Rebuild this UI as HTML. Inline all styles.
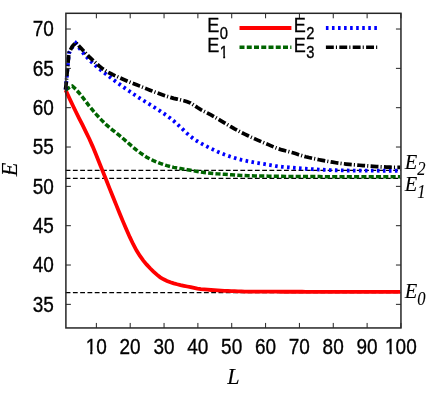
<!DOCTYPE html>
<html><head><meta charset="utf-8"><style>
html,body{margin:0;padding:0;background:#fff;}
svg{display:block;will-change:transform}
text{font-family:"Liberation Sans",sans-serif;font-size:19px;fill:#000;stroke:#000;stroke-width:0.3px}
.it{font-family:"Liberation Serif",serif;font-style:italic;font-size:20.5px;stroke-width:0.1px}
</style></head><body>
<svg width="436" height="397" viewBox="0 0 436 397">
<rect width="436" height="397" fill="#fff"/>
<g fill="none" stroke="#000" stroke-width="1.3" stroke-dasharray="4.8 2.48">
<path d="M65.62,170.4H400.95"/><path d="M65.62,178.35H400.95"/><path d="M65.62,292.7H400.95"/>
</g>
<g fill="none" stroke-linejoin="miter" stroke-width="3.8">
<path stroke="#f00" d="M65.60,90.02 L68.98,97.36 L72.36,104.53 L75.74,111.54 L79.12,118.30 L82.50,124.98 L85.88,131.79 L89.26,138.75 L92.64,146.37 L96.02,154.55 L99.40,162.97 L102.78,171.38 L106.16,179.83 L109.54,188.35 L112.92,196.81 L116.30,205.14 L119.68,213.45 L123.06,221.63 L126.44,229.59 L129.82,237.17 L133.20,244.26 L136.58,250.56 L139.96,255.93 L143.34,260.61 L146.72,264.67 L150.10,268.29 L153.48,271.55 L156.86,274.65 L160.24,277.33 L163.62,279.31 L167.00,280.93 L170.38,282.25 L173.76,283.34 L177.14,284.26 L180.52,285.08 L183.90,285.81 L187.28,286.51 L190.66,287.21 L194.04,287.93 L197.42,288.59 L200.80,289.07 L204.18,289.41 L207.56,289.72 L210.94,289.99 L214.32,290.22 L217.70,290.43 L221.08,290.61 L224.46,290.78 L227.84,290.93 L231.22,291.08 L234.60,291.22 L237.98,291.35 L241.36,291.47 L244.74,291.55 L248.12,291.61 L251.50,291.63 L254.88,291.64 L258.26,291.65 L261.64,291.67 L265.02,291.68 L268.40,291.69 L271.78,291.70 L275.16,291.71 L278.54,291.72 L281.92,291.73 L285.30,291.74 L288.68,291.74 L292.06,291.75 L295.44,291.76 L298.82,291.77 L302.20,291.77 L305.58,291.78 L308.96,291.79 L312.34,291.79 L315.72,291.80 L319.10,291.81 L322.48,291.81 L325.86,291.82 L329.24,291.82 L332.62,291.82 L336.00,291.83 L339.38,291.83 L342.76,291.83 L346.14,291.84 L349.52,291.84 L352.90,291.84 L356.28,291.85 L359.66,291.85 L363.04,291.85 L366.42,291.85 L369.80,291.85 L373.18,291.86 L376.56,291.86 L379.94,291.86 L383.32,291.86 L386.70,291.86 L390.08,291.86 L393.46,291.86 L396.84,291.86 L400.22,291.86"/>
<path stroke="#006400" stroke-width="3.5" stroke-dasharray="5.1 2.2" d="M65.60,90.02 L68.98,87.82 L72.36,86.01 L75.74,89.15 L79.12,92.97 L82.50,97.20 L85.88,101.54 L89.26,106.05 L92.64,110.16 L96.02,114.09 L99.40,117.84 L102.78,121.36 L106.16,124.61 L109.54,127.55 L112.92,130.29 L116.30,132.94 L119.68,135.66 L123.06,138.52 L126.44,141.46 L129.82,144.43 L133.20,147.32 L136.58,150.08 L139.96,152.61 L143.34,154.97 L146.72,157.18 L150.10,159.05 L153.48,160.61 L156.86,162.06 L160.24,163.39 L163.62,164.60 L167.00,165.67 L170.38,166.59 L173.76,167.36 L177.14,168.01 L180.52,168.58 L183.90,169.11 L187.28,169.66 L190.66,170.24 L194.04,170.87 L197.42,171.49 L200.80,172.07 L204.18,172.58 L207.56,172.98 L210.94,173.32 L214.32,173.61 L217.70,173.87 L221.08,174.11 L224.46,174.34 L227.84,174.57 L231.22,174.80 L234.60,175.03 L237.98,175.24 L241.36,175.43 L244.74,175.58 L248.12,175.70 L251.50,175.79 L254.88,175.88 L258.26,175.95 L261.64,176.03 L265.02,176.09 L268.40,176.16 L271.78,176.21 L275.16,176.27 L278.54,176.32 L281.92,176.36 L285.30,176.40 L288.68,176.43 L292.06,176.46 L295.44,176.49 L298.82,176.51 L302.20,176.53 L305.58,176.55 L308.96,176.56 L312.34,176.58 L315.72,176.60 L319.10,176.62 L322.48,176.63 L325.86,176.65 L329.24,176.66 L332.62,176.68 L336.00,176.69 L339.38,176.70 L342.76,176.71 L346.14,176.73 L349.52,176.74 L352.90,176.75 L356.28,176.76 L359.66,176.77 L363.04,176.78 L366.42,176.78 L369.80,176.79 L373.18,176.80 L376.56,176.80 L379.94,176.81 L383.32,176.81 L386.70,176.82 L390.08,176.82 L393.46,176.82 L396.84,176.82 L400.22,176.82"/>
<path stroke="#00f" stroke-dasharray="2.6 3.4" d="M65.60,89.55 L68.98,53.38 L72.36,47.08 L75.74,43.15 L79.12,47.77 L82.50,52.12 L85.88,56.15 L89.26,59.83 L92.64,63.13 L96.02,66.12 L99.40,68.90 L102.78,71.58 L106.16,74.25 L109.54,76.87 L112.92,79.41 L116.30,81.90 L119.68,84.36 L123.06,86.80 L126.44,89.20 L129.82,91.55 L133.20,93.87 L136.58,96.12 L139.96,98.30 L143.34,100.44 L146.72,102.55 L150.10,104.66 L153.48,106.78 L156.86,108.93 L160.24,111.13 L163.62,113.40 L167.00,115.77 L170.38,118.25 L173.76,120.98 L177.14,124.01 L180.52,127.21 L183.90,130.46 L187.28,133.61 L190.66,136.54 L194.04,139.13 L197.42,141.25 L200.80,143.18 L204.18,145.04 L207.56,146.82 L210.94,148.51 L214.32,150.12 L217.70,151.65 L221.08,153.09 L224.46,154.44 L227.84,155.70 L231.22,156.86 L234.60,157.93 L237.98,158.90 L241.36,159.78 L244.74,160.56 L248.12,161.27 L251.50,161.92 L254.88,162.53 L258.26,163.10 L261.64,163.65 L265.02,164.19 L268.40,164.75 L271.78,165.33 L275.16,165.94 L278.54,166.45 L281.92,166.79 L285.30,167.10 L288.68,167.40 L292.06,167.69 L295.44,167.97 L298.82,168.23 L302.20,168.49 L305.58,168.73 L308.96,168.96 L312.34,169.17 L315.72,169.37 L319.10,169.56 L322.48,169.73 L325.86,169.89 L329.24,170.03 L332.62,170.16 L336.00,170.27 L339.38,170.36 L342.76,170.43 L346.14,170.49 L349.52,170.53 L352.90,170.56 L356.28,170.58 L359.66,170.61 L363.04,170.63 L366.42,170.66 L369.80,170.68 L373.18,170.69 L376.56,170.71 L379.94,170.73 L383.32,170.74 L386.70,170.75 L390.08,170.76 L393.46,170.76 L396.84,170.77 L400.22,170.77"/>
<path stroke="#000" stroke-width="3.7" stroke-dasharray="7.9 2.1 1.1 2.3" d="M65.60,89.55 L68.98,52.59 L72.36,46.30 L75.91,42.37 L79.12,46.09 L82.50,49.85 L85.88,53.43 L89.26,56.81 L92.64,60.04 L96.02,63.20 L99.40,66.18 L102.78,68.85 L106.16,71.10 L109.54,73.01 L112.92,74.70 L116.30,76.26 L119.68,77.77 L123.06,79.28 L126.44,80.71 L129.82,82.10 L133.20,83.45 L136.58,84.79 L139.96,86.15 L143.34,87.50 L146.72,88.85 L150.10,90.19 L153.48,91.51 L156.86,92.79 L160.24,94.03 L163.62,95.22 L167.00,96.35 L170.38,97.41 L173.76,98.33 L177.14,99.10 L180.52,99.85 L183.90,100.67 L187.28,101.68 L190.66,103.06 L194.04,105.19 L197.42,107.57 L200.80,109.65 L204.18,111.40 L207.56,113.08 L210.94,114.87 L214.32,116.78 L217.70,118.77 L221.08,120.81 L224.46,122.87 L227.84,124.93 L231.22,126.95 L234.60,128.91 L237.98,130.77 L241.36,132.52 L244.74,134.18 L248.12,135.79 L251.50,137.35 L254.88,138.86 L258.26,140.35 L261.64,141.80 L265.02,143.24 L268.40,144.66 L271.78,146.09 L275.16,147.53 L278.54,148.85 L281.92,149.91 L285.30,150.78 L288.68,151.62 L292.06,152.56 L295.44,153.59 L298.82,154.66 L302.20,155.71 L305.58,156.70 L308.96,157.57 L312.34,158.31 L315.72,159.02 L319.10,159.71 L322.48,160.38 L325.86,161.02 L329.24,161.62 L332.62,162.19 L336.00,162.72 L339.38,163.21 L342.76,163.65 L346.14,164.04 L349.52,164.37 L352.90,164.67 L356.28,164.97 L359.66,165.26 L363.04,165.55 L366.42,165.82 L369.80,166.08 L373.18,166.33 L376.56,166.55 L379.94,166.76 L383.32,166.94 L386.70,167.09 L390.08,167.22 L393.46,167.31 L396.84,167.37 L400.22,167.39"/>
</g>
<g fill="none" stroke-width="3.8">
<path stroke="#f00" d="M239.5,28H291.4"/>
<path stroke="#006400" stroke-width="3.4" stroke-dasharray="5.0 2.25" d="M239.5,47.3H291.4"/>
<path stroke="#00f" stroke-dasharray="2.6 3.45" d="M325.9,28H377.2"/>
<path stroke="#000" stroke-width="3.4" stroke-dasharray="7.9 2.1 1.1 2.3" d="M325.9,47.3H377.2"/>
</g>
<g fill="none" stroke="#222" stroke-width="1"><path d="M65.9,304.35h5M400.95,304.35h-5"/><path d="M65.9,265.02h5M400.95,265.02h-5"/><path d="M65.9,225.69h5M400.95,225.69h-5"/><path d="M65.9,186.36h5M400.95,186.36h-5"/><path d="M65.9,147.03h5M400.95,147.03h-5"/><path d="M65.9,107.69h5M400.95,107.69h-5"/><path d="M65.9,68.36h5M400.95,68.36h-5"/><path d="M65.9,29.03h5M400.95,29.03h-5"/><path d="M96.36,327.95v-5M96.36,13.3v5"/><path d="M130.20,327.95v-5M130.20,13.3v5"/><path d="M164.05,327.95v-5M164.05,13.3v5"/><path d="M197.89,327.95v-5M197.89,13.3v5"/><path d="M231.73,327.95v-5M231.73,13.3v5"/><path d="M265.58,327.95v-5M265.58,13.3v5"/><path d="M299.42,327.95v-5M299.42,13.3v5"/><path d="M333.26,327.95v-5M333.26,13.3v5"/><path d="M367.11,327.95v-5M367.11,13.3v5"/><path d="M400.95,327.95v-5M400.95,13.3v5"/></g>
<rect x="65.9" y="13.3" width="335.04999999999995" height="314.65" fill="none" stroke="#262626" stroke-width="1.5"/>
<text transform="translate(53.80,311.55) scale(1,1.12)" text-anchor="end">35</text><text transform="translate(53.80,272.22) scale(1,1.12)" text-anchor="end">40</text><text transform="translate(53.80,232.89) scale(1,1.12)" text-anchor="end">45</text><text transform="translate(53.80,193.56) scale(1,1.12)" text-anchor="end">50</text><text transform="translate(53.80,154.23) scale(1,1.12)" text-anchor="end">55</text><text transform="translate(53.80,114.89) scale(1,1.12)" text-anchor="end">60</text><text transform="translate(53.80,75.56) scale(1,1.12)" text-anchor="end">65</text><text transform="translate(53.80,36.23) scale(1,1.12)" text-anchor="end">70</text><text transform="translate(96.26,353.90) scale(1,1.12)" text-anchor="middle">10</text><text transform="translate(130.10,353.90) scale(1,1.12)" text-anchor="middle">20</text><text transform="translate(163.95,353.90) scale(1,1.12)" text-anchor="middle">30</text><text transform="translate(197.79,353.90) scale(1,1.12)" text-anchor="middle">40</text><text transform="translate(231.63,353.90) scale(1,1.12)" text-anchor="middle">50</text><text transform="translate(265.48,353.90) scale(1,1.12)" text-anchor="middle">60</text><text transform="translate(299.32,353.90) scale(1,1.12)" text-anchor="middle">70</text><text transform="translate(333.16,353.90) scale(1,1.12)" text-anchor="middle">80</text><text transform="translate(367.01,353.90) scale(1,1.12)" text-anchor="middle">90</text><text transform="translate(400.85,353.90) scale(1,1.12)" text-anchor="middle">100</text><!--C-->
<text transform="translate(207.30,32.30) scale(0.95,1.04)" text-anchor="start">E</text><text transform="translate(219.80,39.40) scale(0.97,1.14)" text-anchor="start" style="font-size:15.2px">0</text><text transform="translate(207.30,52.10) scale(0.95,1.04)" text-anchor="start">E</text><text transform="translate(219.80,57.80) scale(0.97,1.14)" text-anchor="start" style="font-size:15.2px">1</text><text transform="translate(293.70,32.30) scale(0.95,1.04)" text-anchor="start">E</text><text transform="translate(306.20,39.40) scale(0.97,1.14)" text-anchor="start" style="font-size:15.2px">2</text><text transform="translate(293.70,52.10) scale(0.95,1.04)" text-anchor="start">E</text><text transform="translate(306.20,57.70) scale(0.97,1.14)" text-anchor="start" style="font-size:15.2px">3</text>
<rect x="86.14" y="351.11" width="4.03" height="4.09" fill="#fff"/><rect x="92.45" y="351.11" width="3.88" height="4.09" fill="#fff"/><rect x="385.45" y="351.11" width="4.03" height="4.09" fill="#fff"/><rect x="391.76" y="351.11" width="3.88" height="4.09" fill="#fff"/><rect x="219.92" y="55.31" width="3.28" height="3.79" fill="#fff"/><rect x="225.11" y="55.31" width="3.17" height="3.79" fill="#fff"/><text class="it" transform="translate(404.70,168.90) scale(1,1)" text-anchor="start">E</text><text class="it" transform="translate(417.30,174.70) scale(1,1.1)" text-anchor="start" style="font-size:16.6px">2</text><text class="it" transform="translate(404.70,190.60) scale(1,1)" text-anchor="start">E</text><text class="it" transform="translate(417.30,197.80) scale(1,1.1)" text-anchor="start" style="font-size:16.6px">1</text><text class="it" transform="translate(404.70,297.80) scale(1,1)" text-anchor="start">E</text><text class="it" transform="translate(417.30,305.20) scale(1,1.1)" text-anchor="start" style="font-size:16.6px">0</text>
<text class="it" style="font-size:22.3px" x="227.2" y="384">L</text>
<text class="it" style="font-size:22.3px" transform="translate(16.5,176.2) rotate(-90)">E</text>
</svg>
</body></html>
